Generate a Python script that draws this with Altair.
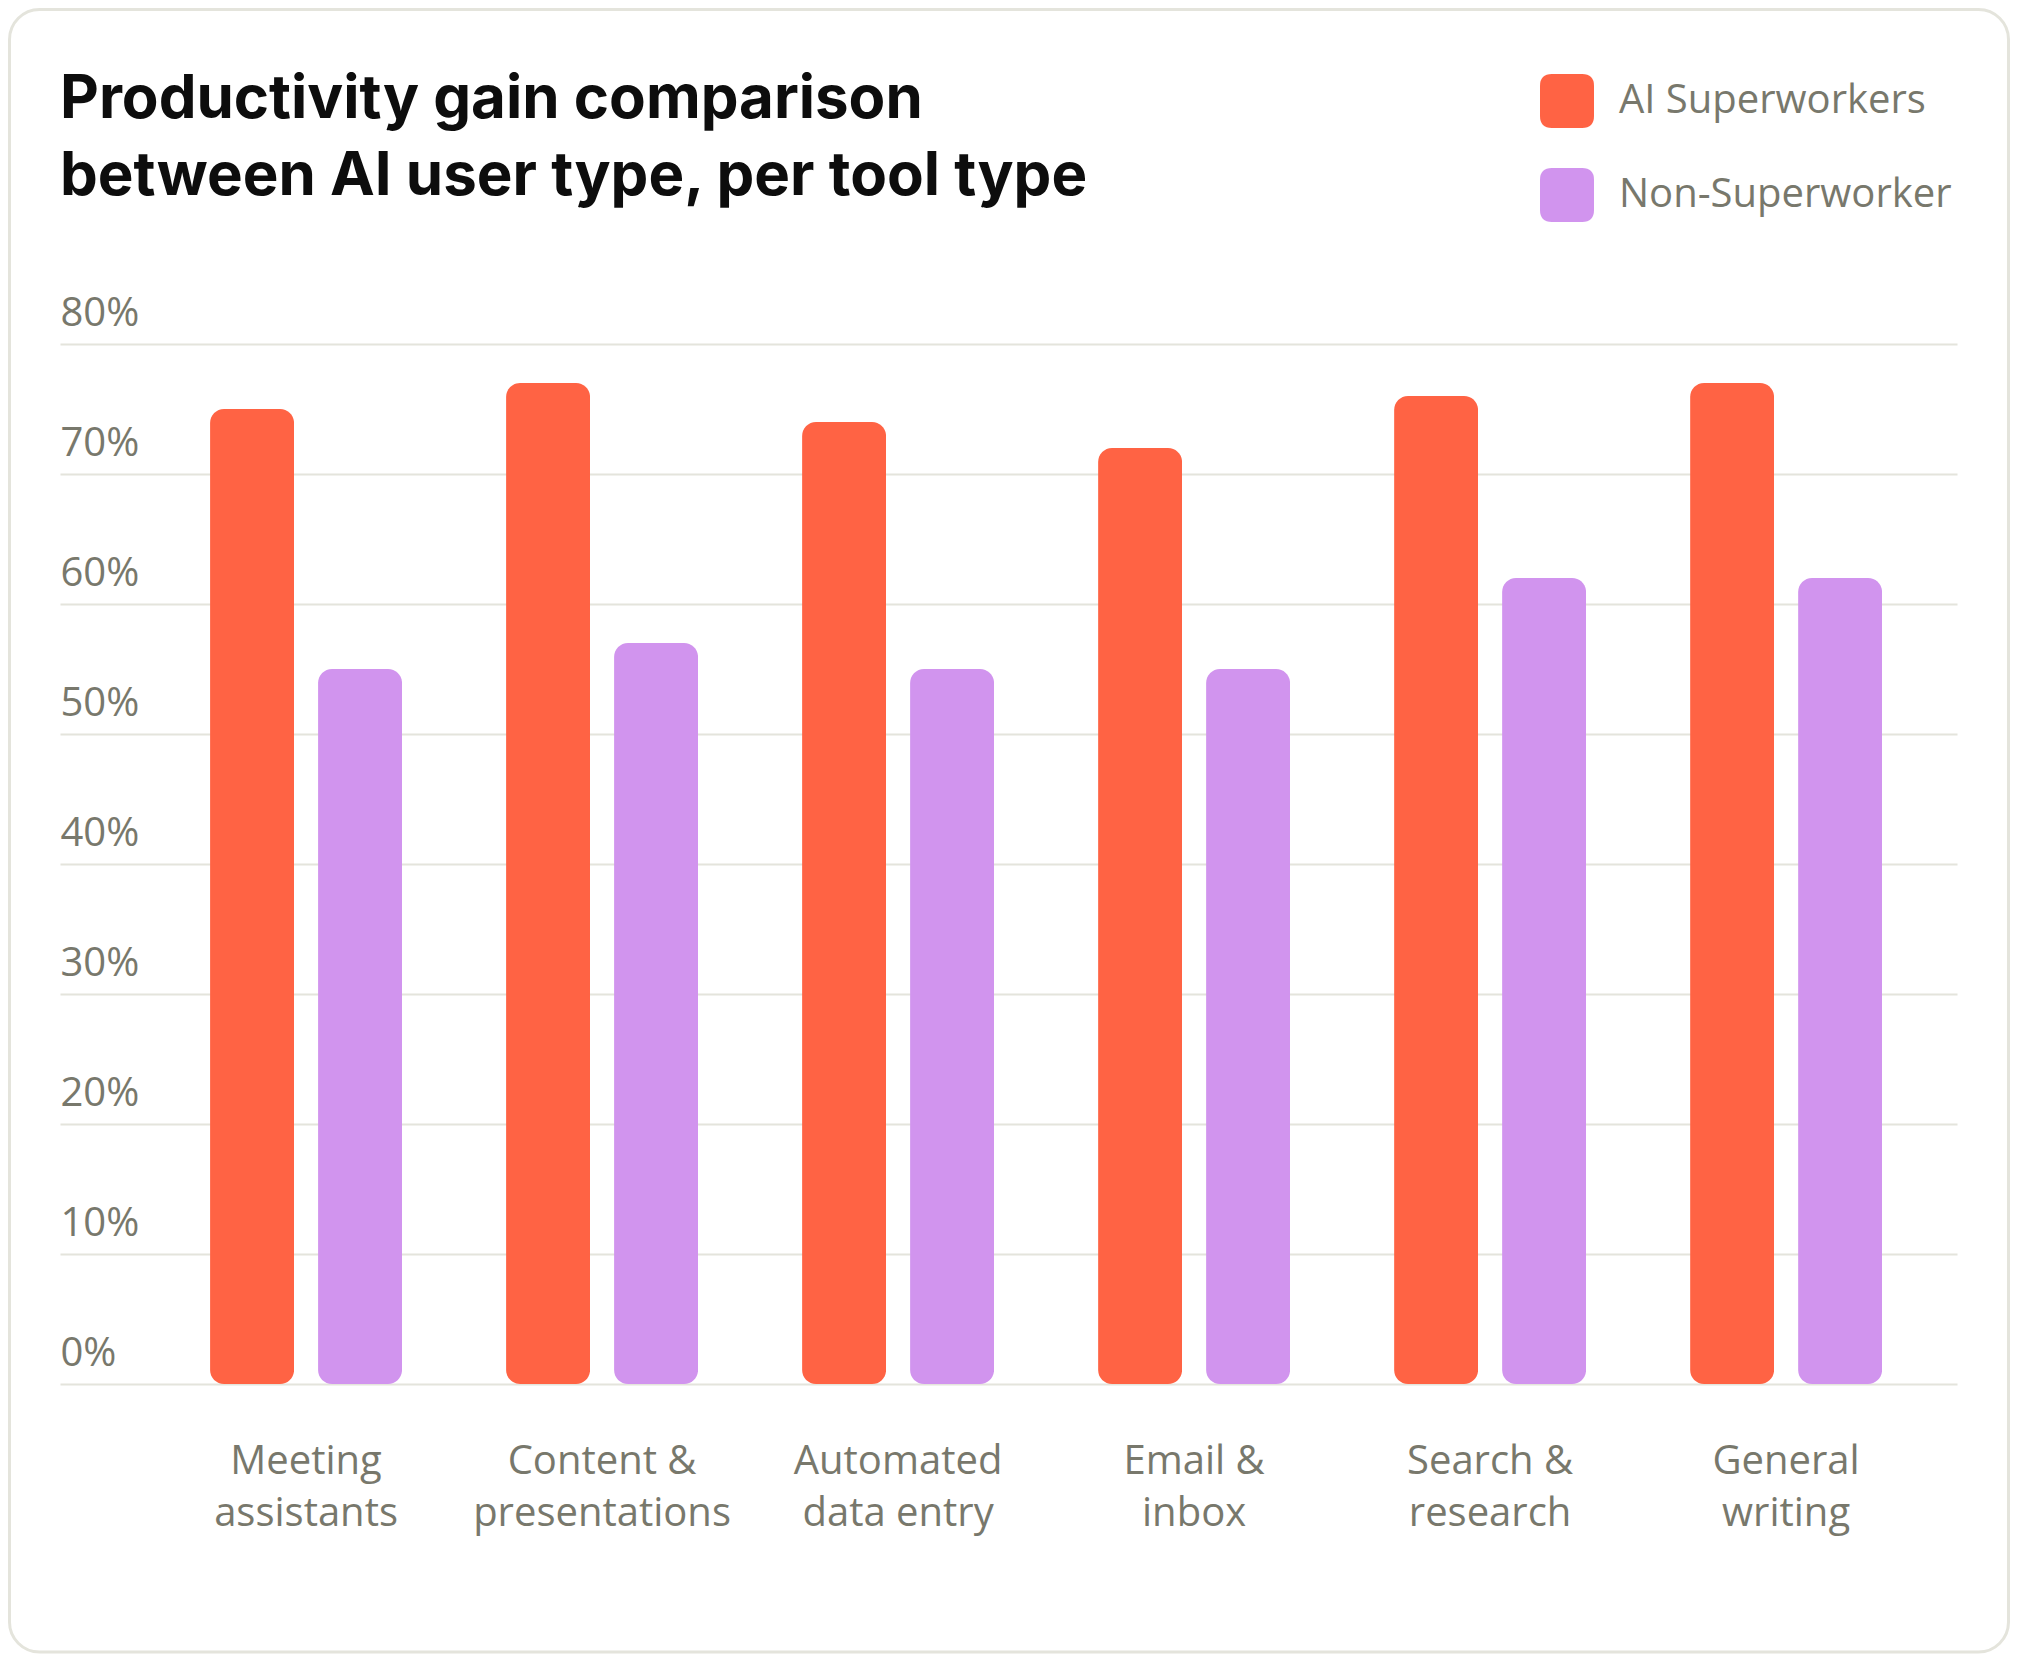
import altair as alt
import pandas as pd

# ---- data ----
categories = [
    "Meeting\nassistants",
    "Content &\npresentations",
    "Automated\ndata entry",
    "Email &\ninbox",
    "Search &\nresearch",
    "General\nwriting",
]
series = ["AI Superworkers", "Non-Superworker"]
superworkers = [75, 77, 74, 72, 76, 77]
non_superworkers = [55, 57, 55, 55, 62, 62]
y_ticks = [0, 10, 20, 30, 40, 50, 60, 70, 80]
title_lines = ["Productivity gain comparison", "between AI user type, per tool type"]

rows = []
for c, a, b in zip(categories, superworkers, non_superworkers):
    rows.append({"tool": c, "group": series[0], "gain": a})
    rows.append({"tool": c, "group": series[1], "gain": b})
df = pd.DataFrame(rows)

GRAY = "#78786c"
GRID = "#e4e4dc"
LABEL_FONT = "Open Sans"

# decorative card frame
frame = alt.Chart(pd.DataFrame({"k": [0]})).mark_rect(
    filled=False, stroke=GRID, strokeWidth=3, cornerRadius=30
).encode(
    x=alt.value(-50.5), x2=alt.value(1948.5),
    y=alt.value(-334.5), y2=alt.value(1308),
)

bars = alt.Chart(df).mark_bar(cornerRadius=14).encode(
    x=alt.X(
        "tool:N",
        sort=categories,
        scale=alt.Scale(paddingInner=0.3514, paddingOuter=0.38, align=0.667),
        axis=alt.Axis(
            title=None, domain=False, ticks=False, tickSize=0, grid=False,
            labelAngle=0, labelFont=LABEL_FONT, labelFontSize=40,
            labelLineHeight=52, labelColor=GRAY, labelPadding=57,
            labelLimit=1000,
            labelExpr="split(datum.label, '\\n')",
        ),
    ),
    xOffset=alt.XOffset(
        "group:N", sort=series,
        scale=alt.Scale(paddingInner=0.2222, paddingOuter=0),
    ),
    y=alt.Y(
        "gain:Q",
        scale=alt.Scale(domain=[0, 80], nice=False),
        axis=alt.Axis(
            title=None, values=y_ticks, domain=False, ticks=False, tickSize=0,
            grid=True, gridColor=GRID, gridWidth=2,
            labelAlign="left", labelBaseline="alphabetic", labelPadding=0,
            labelOffset=-19, labelFont=LABEL_FONT, labelFontSize=40,
            labelColor=GRAY, labelExpr="datum.value + '%'",
        ),
    ),
    color=alt.Color(
        "group:N", sort=series,
        scale=alt.Scale(domain=series, range=["#FF6344", "#D194EE"]),
        legend=alt.Legend(
            title=None, orient="none", legendX=1480, legendY=-270,
            direction="vertical", padding=0, rowPadding=40,
            symbolType="M-0.56,-1H0.56Q1,-1,1,-0.56V0.56Q1,1,0.56,1H-0.56Q-1,1,-1,0.56V-0.56Q-1,-1,-0.56,-1Z",
            symbolSize=2916, symbolStrokeWidth=0, symbolOpacity=1,
            labelFont=LABEL_FONT, labelFontSize=40, labelColor=GRAY,
            labelOffset=25, labelLimit=600,
        ),
    ),
)

chart = alt.layer(frame, bars).properties(
    width=1897,
    height=1040,
    padding={"left": 52, "top": 336, "right": 53, "bottom": 270},
    autosize=alt.AutoSizeParams(type="none"),
    background="white",
    title=alt.TitleParams(
        text=title_lines, anchor="start", frame="group",
        font="Inter", fontSize=60, fontWeight=700, color="#0d0d0d",
        lineHeight=77, offset=-200,
    ),
).configure_view(stroke=None)

chart.save("out.html", embed_options={"renderer": "svg", "actions": False})
